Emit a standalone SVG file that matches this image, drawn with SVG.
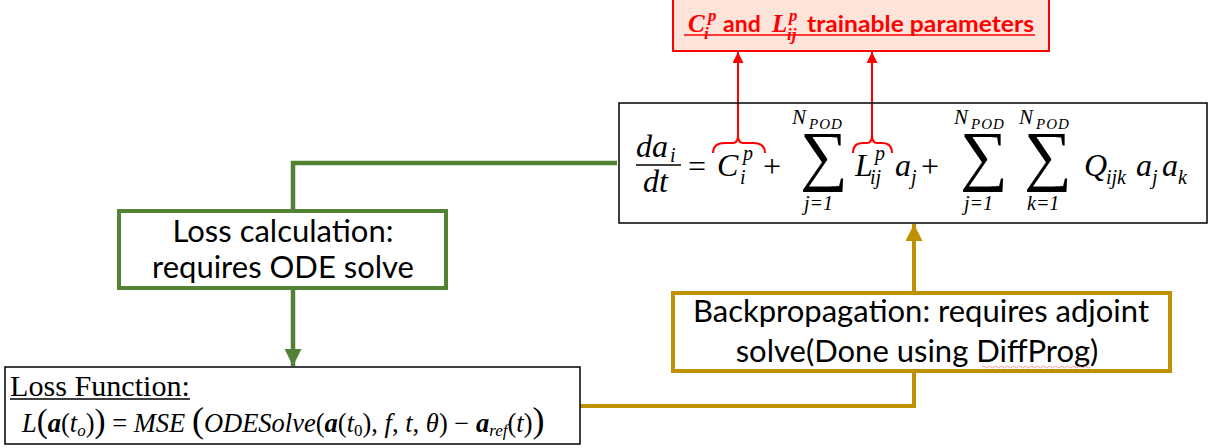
<svg xmlns="http://www.w3.org/2000/svg" width="1209" height="448" viewBox="0 0 1209 448">
<defs>
<style>
.m{font-family:"Liberation Serif","DejaVu Serif",serif;font-style:italic;fill:#000}
.mn{font-family:"Liberation Serif","DejaVu Serif",serif;font-style:normal;fill:#000}
.s{font-family:Lato,"Liberation Sans",sans-serif;fill:#000}
.red{stroke:#FF0000;stroke-width:2;fill:none}
.grn{stroke:#548235;stroke-width:4.5;fill:none}
.gld{stroke:#BF9000;stroke-width:4;fill:none}
.pr{font-family:"Liberation Serif",serif;font-style:italic;font-weight:bold;fill:#FF0000}
</style>
<marker id="ar" viewBox="0 0 10 10" refX="10" refY="5" markerWidth="12" markerHeight="11" orient="auto" markerUnits="userSpaceOnUse">
<path d="M0,0 L10,5 L0,10 z" fill="#FF0000"/>
</marker>
<marker id="ag" viewBox="0 0 10 10" refX="10" refY="5" markerWidth="17" markerHeight="17" orient="auto" markerUnits="userSpaceOnUse">
<path d="M0,0 L10,5 L0,10 z" fill="#548235"/>
</marker>
<marker id="ay" viewBox="0 0 10 10" refX="10" refY="5" markerWidth="17" markerHeight="17" orient="auto" markerUnits="userSpaceOnUse">
<path d="M0,0 L10,5 L0,10 z" fill="#BF9000"/>
</marker>
</defs>
<rect width="1209" height="448" fill="#fff"/>

<g id="connectors">
<path class="grn" d="M617,163 H293 V211"/>
<path class="grn" d="M293,288 V366" marker-end="url(#ag)"/>
<path class="gld" d="M580,406 H914 V371"/>
<path class="gld" d="M914,293 V224" marker-end="url(#ay)"/>
<path class="red" d="M738,136 V52" marker-end="url(#ar)"/>
<path class="red" d="M872,136 V52" marker-end="url(#ar)"/>
<path class="red" d="M713,153 Q713,143 725,143 L733,143 Q738,143 738,135 Q738,143 743,143 L753,143 Q765,143 765,153"/>
<path class="red" d="M853,153 Q853,143 863,143 L867,143 Q872,143 872,135 Q872,143 877,143 L882,143 Q892,143 892,153"/>
</g>

<g id="params">
<rect x="673" y="-2" width="376" height="53" fill="#FCE4DA" stroke="#FF0000" stroke-width="2"/>
<text class="pr" x="688" y="32" font-size="25">C<tspan x="708" y="21" font-size="17">p</tspan><tspan x="704" y="39" font-size="17">i</tspan></text>
<text x="723" y="32" font-family="Lato,Liberation Sans,sans-serif" font-weight="bold" font-size="23" fill="#FF0000">and</text>
<text class="pr" x="772" y="32" font-size="25">L<tspan x="789" y="21" font-size="17">p</tspan><tspan x="787" y="40" font-size="17">ij</tspan></text>
<text x="807" y="32" font-family="Lato,Liberation Sans,sans-serif" font-weight="bold" font-size="23" fill="#FF0000" textLength="227" lengthAdjust="spacingAndGlyphs">trainable parameters</text>
<line x1="684" y1="35" x2="1035" y2="35" stroke="#FF0000" stroke-width="1.5"/>
</g>

<g id="equation">
<rect x="619" y="103" width="588" height="120" fill="none" stroke="#000" stroke-width="1.5"/>
<text class="m" x="636" y="157" font-size="32">da<tspan x="670" y="162" font-size="20">i</tspan></text>
<line x1="636" y1="165" x2="681" y2="165" stroke="#000" stroke-width="1.5"/>
<text class="m" x="643" y="192" font-size="32">dt</text>
<text class="mn" x="688" y="177" font-size="32">=</text>
<text class="m" x="717" y="176" font-size="32">C<tspan x="743" y="160" font-size="20">p</tspan><tspan x="740" y="184" font-size="20">i</tspan></text>
<text class="mn" x="763" y="177" font-size="32">+</text>
<text class="mn" x="800" y="178" font-size="67">∑</text>
<text class="m" x="792" y="124" font-size="21">N<tspan x="809" y="129" font-size="15" letter-spacing="1">POD</tspan></text>
<text class="m" x="804" y="210" font-size="20">j=1</text>
<text class="m" x="855" y="176" font-size="32">L<tspan x="875" y="160" font-size="20">p</tspan><tspan x="870" y="184" font-size="20">ij</tspan><tspan x="895" y="176" font-size="32">a</tspan><tspan x="911" y="184" font-size="20">j</tspan></text>
<text class="mn" x="921" y="177" font-size="32">+</text>
<text class="mn" x="960" y="178" font-size="67">∑</text>
<text class="m" x="954" y="124" font-size="21">N<tspan x="971" y="129" font-size="15" letter-spacing="1">POD</tspan></text>
<text class="m" x="964" y="210" font-size="20">j=1</text>
<text class="mn" x="1024" y="178" font-size="67">∑</text>
<text class="m" x="1019" y="124" font-size="21">N<tspan x="1036" y="129" font-size="15" letter-spacing="1">POD</tspan></text>
<text class="m" x="1027" y="210" font-size="20">k=1</text>
<text class="m" x="1084" y="176" font-size="32">Q<tspan x="1106" y="184" font-size="20">ijk</tspan><tspan x="1136" y="176" font-size="32">a</tspan><tspan x="1152" y="184" font-size="20">j</tspan><tspan x="1162" y="176" font-size="32">a</tspan><tspan x="1178" y="184" font-size="20">k</tspan></text>
</g>

<g id="losscalc">
<rect x="119" y="211" width="327" height="77" fill="#fff" stroke="#548235" stroke-width="4"/>
<text class="s" x="283" y="242" font-size="31" text-anchor="middle">Loss calculation:</text>
<text class="s" x="283" y="278" font-size="31" text-anchor="middle">requires ODE solve</text>
</g>

<g id="backprop">
<rect x="673" y="293" width="497" height="78" fill="#fff" stroke="#BF9000" stroke-width="4"/>
<text class="s" x="921" y="322" font-size="31" text-anchor="middle">Backpropagation: requires adjoint</text>
<text class="s" x="917" y="362" font-size="31" text-anchor="middle">solve(Done using DiffProg)</text>
<path d="M982,367 q1.5,-2 3,0 t3,0 t3,0 t3,0 t3,0 t3,0 t3,0 t3,0 t3,0 t3,0 t3,0 t3,0 t3,0 t3,0 t3,0 t3,0 t3,0 t3,0 t3,0 t3,0 t3,0 t3,0 t3,0 t3,0 t3,0 t3,0 t3,0 t3,0 t3,0 t3,0 t3,0 t3,0 t3,0 t3,0 t3,0 t3,0" fill="none" stroke="#F08080" stroke-width="0.8"/>
</g>

<g id="lossfunction">
<rect x="5" y="367" width="575" height="77" fill="#fff" stroke="#000" stroke-width="1.5"/>
<text class="mn" x="10" y="396" font-size="29" textLength="180" lengthAdjust="spacingAndGlyphs">Loss Function:</text>
<line x1="10" y1="399" x2="190" y2="399" stroke="#000" stroke-width="1.3"/>
<text class="m" x="22" y="432" font-size="26.5">L<tspan class="mn" font-size="33" font-style="normal">(</tspan><tspan font-weight="bold">a</tspan><tspan font-style="normal">(</tspan>t<tspan font-size="17" dy="4">o</tspan><tspan font-style="normal" dy="-4">)</tspan><tspan font-size="33" font-style="normal">)</tspan><tspan font-style="normal"> = </tspan>MSE <tspan font-size="36" font-style="normal">(</tspan>ODESolve<tspan font-style="normal">(</tspan><tspan font-weight="bold">a</tspan><tspan font-style="normal">(</tspan>t<tspan font-size="17" font-style="normal" dy="4">0</tspan><tspan font-style="normal" dy="-4">),</tspan> f<tspan font-style="normal">,</tspan> t<tspan font-style="normal">,</tspan> θ<tspan font-style="normal">) − </tspan><tspan font-weight="bold">a</tspan><tspan font-size="17" dy="4">ref</tspan><tspan font-style="normal" dy="-4">(</tspan>t<tspan font-style="normal">)</tspan><tspan font-size="36" font-style="normal">)</tspan></text>
</g>
</svg>
